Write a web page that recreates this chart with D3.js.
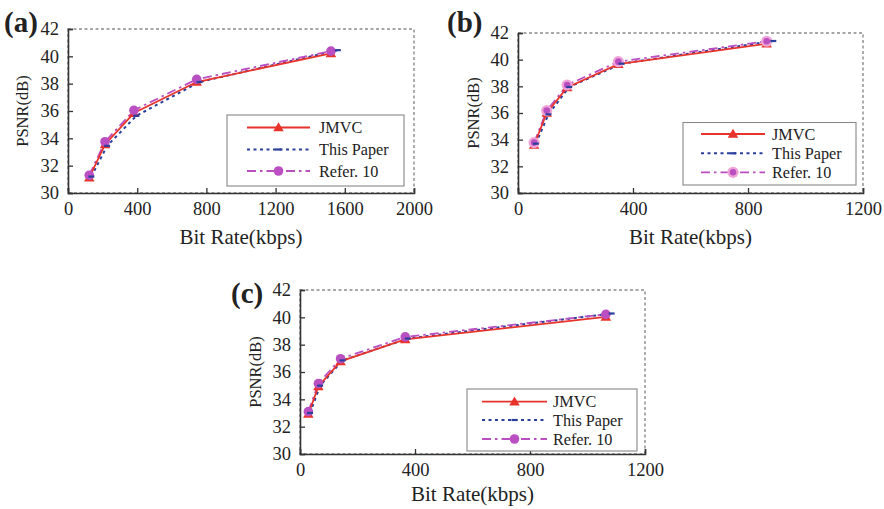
<!DOCTYPE html>
<html>
<head>
<meta charset="utf-8">
<script src="https://cdn.jsdelivr.net/npm/d3@7"></script>
<style>
  html, body { margin: 0; padding: 0; background: #fff; }
  svg text { font-family: "Liberation Serif", "Times New Roman", serif; fill: #222; }
</style>
</head>
<body>
<svg id="chart" width="884" height="509"></svg>
<script>
// ---- data ----
const seriesNames = ["JMVC", "This Paper", "Refer. 10"];
const yTicks = [30, 32, 34, 36, 38, 40, 42];
const xTicksA = [0, 400, 800, 1200, 1600, 2000];
const xTicksB = [0, 400, 800, 1200];
const xTicksC = [0, 400, 800, 1200];

// panel (a)
const rateA_jmvc  = [123, 214, 381, 744, 1520];
const psnrA_jmvc  = [31.12, 33.55, 35.85, 38.12, 40.22];
const rateA_paper = [135, 226, 395, 760, 1560];
const psnrA_paper = [31.2, 33.45, 35.65, 38.12, 40.45];
const rateA_ref   = [123, 214, 381, 744, 1520];
const psnrA_ref   = [31.3, 33.75, 36.05, 38.32, 40.38];

// panel (b)
const rateB_jmvc  = [56, 100, 171, 349, 865];
const psnrB_jmvc  = [33.6, 36.0, 37.92, 39.67, 41.2];
const rateB_paper = [62, 106, 178, 360, 888];
const psnrB_paper = [33.7, 35.9, 37.95, 39.7, 41.4];
const rateB_ref   = [56, 100, 171, 349, 865];
const psnrB_ref   = [33.78, 36.18, 38.1, 39.85, 41.38];

// panel (c)
const rateC_jmvc  = [29, 64, 141, 366, 1064];
const psnrC_jmvc  = [32.93, 34.95, 36.78, 38.38, 40.03];
const rateC_paper = [35, 70, 148, 375, 1084];
const psnrC_paper = [33.0, 35.0, 36.85, 38.45, 40.28];
const rateC_ref   = [29, 64, 141, 366, 1064];
const psnrC_ref   = [33.1, 35.15, 36.97, 38.57, 40.22];

// ---- styling ----
const colors = { jmvc: "#e8332b", paper: "#2b3f9c", ref: "#b94fc0" };

const panels = [
  { label: "(a)", labelPos: [4, 32], box: [68, 29, 414, 193], xMax: 2000, xTicks: xTicksA,
    series: [[rateA_jmvc, psnrA_jmvc], [rateA_paper, psnrA_paper], [rateA_ref, psnrA_ref]],
    legend: { box: [227, 115, 404, 186], rows: [127.5, 149.5, 171], line: [247, 310], text: 319 },
    refHalo: false, yTitleX: 22, xTitleY: 244 },
  { label: "(b)", labelPos: [447, 32], box: [518, 33, 863, 193], xMax: 1200, xTicks: xTicksB,
    series: [[rateB_jmvc, psnrB_jmvc], [rateB_paper, psnrB_paper], [rateB_ref, psnrB_ref]],
    legend: { box: [683, 122.5, 856, 185], rows: [134, 153.3, 172.3], line: [701, 765], text: 772 },
    refHalo: true, yTitleX: 473, xTitleY: 244 },
  { label: "(c)", labelPos: [231, 303], box: [300, 290, 645, 454], xMax: 1200, xTicks: xTicksC,
    series: [[rateC_jmvc, psnrC_jmvc], [rateC_paper, psnrC_paper], [rateC_ref, psnrC_ref]],
    legend: { box: [467, 389, 637, 451], rows: [401.7, 420, 439], line: [482, 547], text: 553 },
    refHalo: false, yTitleX: 255, xTitleY: 501 }
];

const svg = d3.select("#chart");
const seriesStyle = [
  { color: colors.jmvc,  dash: null,        width: 1.8, marker: "triangle" },
  { color: colors.paper, dash: "3,3.5",     width: 2,   marker: "dash" },
  { color: colors.ref,   dash: "9,4,2.5,4", width: 1.8, marker: "circle" }
];

function drawMarker(g, kind, x, y, halo) {
  if (kind === "triangle") {
    g.append("path")
      .attr("d", d3.symbol().type(d3.symbolTriangle).size(48)())
      .attr("transform", `translate(${x},${y + 0.8})`)
      .attr("fill", colors.jmvc);
  } else if (kind === "circle") {
    if (halo) {
      g.append("circle").attr("cx", x).attr("cy", y).attr("r", 5.6).attr("fill", "#f0a3d6");
      g.append("circle").attr("cx", x).attr("cy", y).attr("r", 3.3).attr("fill", colors.ref);
    } else {
      g.append("circle").attr("cx", x).attr("cy", y).attr("r", 4.8).attr("fill", colors.ref);
    }
  } else if (kind === "dash") {
    g.append("line").attr("x1", x - 3).attr("x2", x + 3).attr("y1", y).attr("y2", y)
      .attr("stroke", colors.paper).attr("stroke-width", 2.2);
  }
}

panels.forEach(p => {
  const [x0, y0, x1, y1] = p.box;
  const x = d3.scaleLinear().domain([0, p.xMax]).range([x0, x1]);
  const y = d3.scaleLinear().domain([30, 42]).range([y1, y0]);
  const g = svg.append("g");

  // dotted frame
  g.append("rect").attr("x", x0).attr("y", y0).attr("width", x1 - x0).attr("height", y1 - y0)
    .attr("fill", "none").attr("stroke", "#8a8a8a").attr("stroke-width", 1.4)
    .attr("stroke-dasharray", "3,2.5");

  // axes with inward ticks
  const xAxis = d3.axisBottom(x).tickValues(p.xTicks).tickSize(-5).tickPadding(9).tickFormat(d3.format("d"));
  const yAxis = d3.axisLeft(y).tickValues(yTicks).tickSize(-5).tickPadding(9).tickFormat(d3.format("d"));
  const gx = g.append("g").attr("transform", `translate(0,${y1})`).call(xAxis);
  const gy = g.append("g").attr("transform", `translate(${x0},0)`).call(yAxis);
  [gx, gy].forEach(a => {
    a.select(".domain").attr("stroke", "#333").attr("stroke-width", 1.6);
    a.selectAll(".tick line").attr("stroke", "#333").attr("stroke-width", 1.3);
    a.selectAll(".tick text").style("font-size", "18.5px").attr("fill", "#222")
      .style("font-family", "'Liberation Serif', serif");
  });
  gx.selectAll(".tick text").attr("dy", "0.71em");

  // axis titles
  g.append("text").attr("x", (x0 + x1) / 2).attr("y", p.xTitleY)
    .attr("text-anchor", "middle").style("font-size", "21px").text("Bit Rate(kbps)");
  g.append("text").attr("transform", `translate(${p.yTitleX},${(y0 + y1) / 2}) rotate(-90)`)
    .attr("text-anchor", "middle").attr("dy", "0.35em").style("font-size", "16.5px").text("PSNR(dB)");

  // panel label
  g.append("text").attr("x", p.labelPos[0]).attr("y", p.labelPos[1])
    .style("font-size", "29px").style("font-weight", "bold").attr("fill", "#111").text(p.label);

  // series lines: paper and ref underneath, JMVC on top
  const line = d3.line().x(d => x(d[0])).y(d => y(d[1]));
  [1, 2, 0].forEach(i => {
    const [xs, ys] = p.series[i];
    const pts = xs.map((v, k) => [v, ys[k]]);
    const st = seriesStyle[i];
    g.append("path").datum(pts).attr("d", line).attr("fill", "none")
      .attr("stroke", st.color).attr("stroke-width", st.width)
      .attr("stroke-dasharray", st.dash);
  });
  [0, 2, 1].forEach(i => {
    const [xs, ys] = p.series[i];
    xs.forEach((v, k) => drawMarker(g, seriesStyle[i].marker, x(v), y(ys[k]), p.refHalo));
  });

  // legend
  const L = p.legend;
  const lg = g.append("g");
  lg.append("rect").attr("x", L.box[0]).attr("y", L.box[1])
    .attr("width", L.box[2] - L.box[0]).attr("height", L.box[3] - L.box[1])
    .attr("fill", "#fff").attr("stroke", "#888").attr("stroke-width", 1.1);
  seriesNames.forEach((name, i) => {
    const st = seriesStyle[i];
    const ry = L.rows[i];
    lg.append("line").attr("x1", L.line[0]).attr("x2", L.line[1]).attr("y1", ry).attr("y2", ry)
      .attr("stroke", st.color).attr("stroke-width", st.width).attr("stroke-dasharray", st.dash);
    drawMarker(lg, st.marker, (L.line[0] + L.line[1]) / 2, ry, p.refHalo);
    lg.append("text").attr("x", L.text).attr("y", ry).attr("dy", "0.35em")
      .style("font-size", "16.2px").text(name);
  });
});
</script>
</body>
</html>
